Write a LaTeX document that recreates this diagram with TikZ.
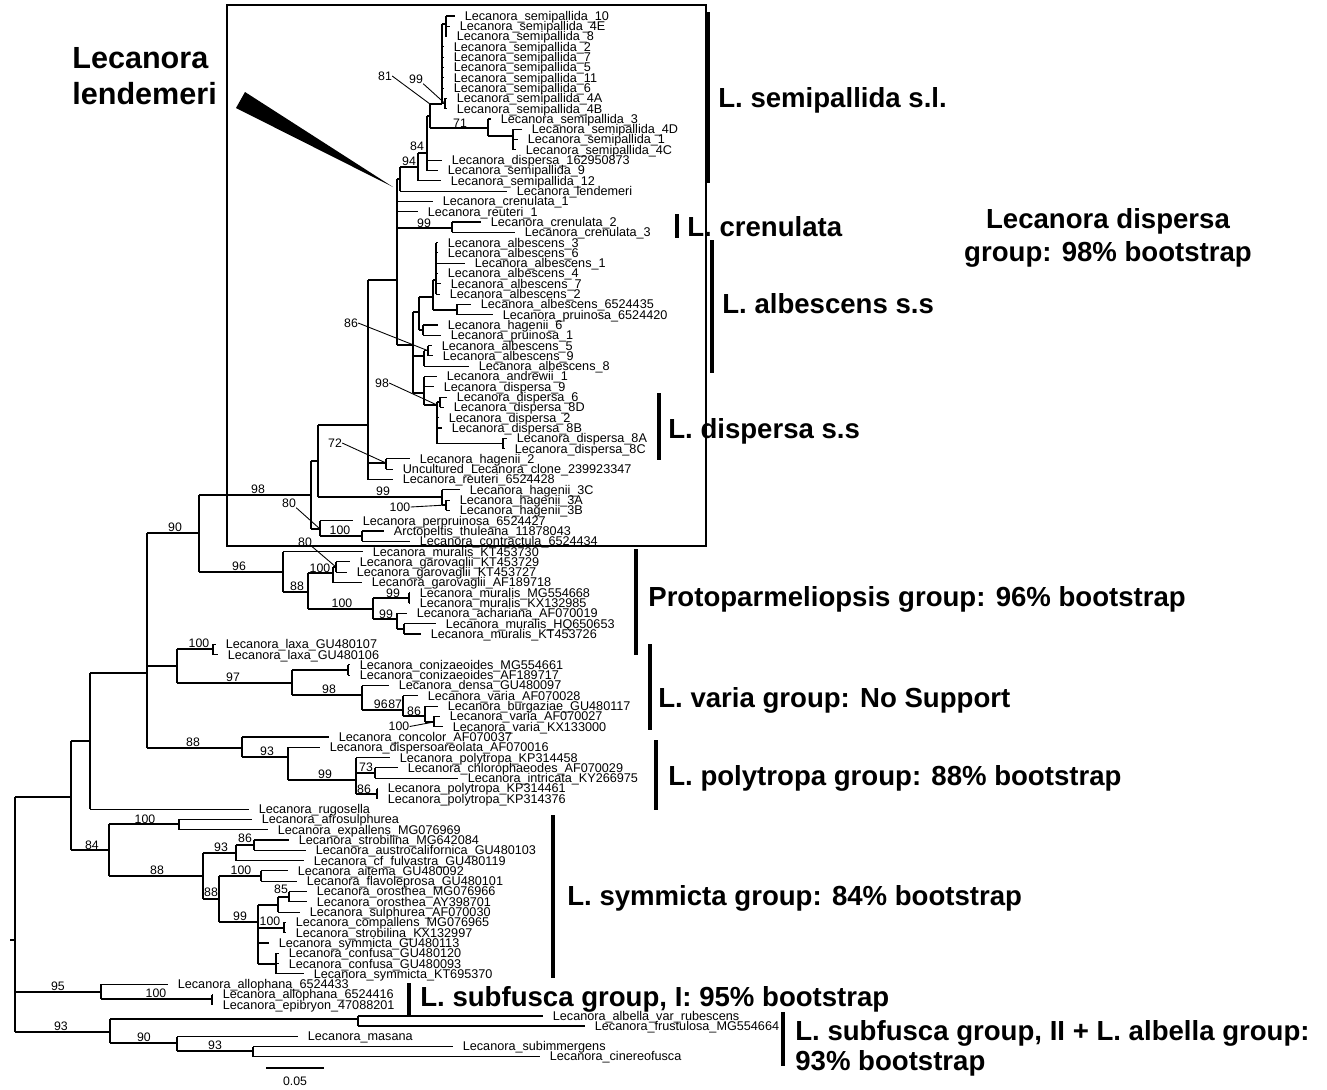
\documentclass[tikz,border=0pt]{standalone}
\usepackage{fontspec}
\setmainfont{Liberation Sans}
\usetikzlibrary{positioning}

\tikzset{
  branch/.style={line width=0.6pt},
  tiplab/.style={anchor=base west, inner sep=0pt, xshift=0.19cm, yshift=-2.5pt,
    font=\fontsize{7.2}{8}\selectfont},
  bootlab/.style={inner sep=0pt, font=\fontsize{7}{8}\selectfont},
  pointer/.style={line width=0.5pt},
  groupbar/.style={line width=2.2pt},
  grouplab/.style={anchor=base west, inner sep=0pt, font=\fontsize{15.7}{18}\selectfont\bfseries},
  bigname/.style={anchor=base west, inner sep=0pt, font=\fontsize{17.4}{20}\selectfont\bfseries}
}
% stem from parent x to node x at stem y, then the node's vertical
\newcommand{\clade}[6]{%
  \draw[branch] (#2,#4) -- (#3,#4) coordinate (#1);
  \draw[branch] (#3,#5) -- (#3,#6);}
% terminal branch and its label
\newcommand{\leaf}[5]{%
  \draw[branch] (#2,#4) -- (#3,#4);
  \node[tiplab] (#1) at (#3,#4) {#5};}
\newcommand{\boot}[4]{\node[bootlab] (#1) at (#2,#3) {#4};}

\begin{document}
\begin{tikzpicture}[x=0.02cm, y=-0.02cm]
  \fill[white] (0,0) rectangle (1327,1089);
  \useasboundingbox (0,0) rectangle (1327,1089);

  % dispersa group box and the lendemeri wedge
  \draw[line width=0.7pt] (227,5) rectangle (706,546);
  \fill[black] (236,108) -- (245,92) -- (393,187) -- cycle;
  \node[bigname] (lendA) at (72,68) {Lecanora};
  \node[bigname] (lendB) at (72,104) {lendemeri};

  % backbone
  \draw[branch] (10,940) -- (15,940);
  \draw[branch] (15,797) -- (15,1032);
  \clade{n71}{15}{71}{797}{741}{850}
  \clade{n90}{71}{90}{741}{673}{809.1}
  \clade{n147}{90}{147}{673}{533}{748}
  \clade{n199}{147}{199}{533}{495}{572}
  \clade{n311}{199}{311}{495}{461}{529}
  \clade{n318}{311}{318}{461}{425}{497}
  \clade{n368}{318}{368}{425}{280}{479.5}
  \clade{n397}{368}{397}{280}{179}{345}

  % semipallida s.l.
  \clade{n400}{397}{400}{179}{167}{191.1}
  \clade{n418}{400}{418}{167}{153}{180.8}
  \clade{n427}{418}{427}{153}{116}{170.5}
  \clade{n430}{427}{430}{116}{104}{128}
  \clade{n442}{430}{442}{104}{24}{104}
  \clade{n446}{442}{446}{24}{16}{36.6}
  \clade{n444}{442}{445}{103.5}{98.4}{108.7}
  \clade{n488}{430}{488}{128}{119}{136}
  \clade{n513}{488}{513}{136}{129.3}{149.9}
  \leaf{sp10}{446}{455}{16}{Lecanora\_semipallida\_10}
  \leaf{sp4E}{446}{450}{26.3}{Lecanora\_semipallida\_4E}
  \leaf{sp8}{446}{447}{36.6}{Lecanora\_semipallida\_8}
  \leaf{sp2}{442}{444}{46.9}{Lecanora\_semipallida\_2}
  \leaf{sp7}{442}{444}{57.2}{Lecanora\_semipallida\_7}
  \leaf{sp5}{442}{444}{67.5}{Lecanora\_semipallida\_5}
  \leaf{sp11}{442}{444}{77.8}{Lecanora\_semipallida\_11}
  \leaf{sp6}{442}{444}{88.1}{Lecanora\_semipallida\_6}
  \leaf{sp4A}{445}{447}{98.4}{Lecanora\_semipallida\_4A}
  \leaf{sp4B}{445}{447}{108.7}{Lecanora\_semipallida\_4B}
  \leaf{sp3}{488}{491}{119}{Lecanora\_semipallida\_3}
  \leaf{sp4D}{513}{522}{129.3}{Lecanora\_semipallida\_4D}
  \leaf{sp1}{513}{518}{139.6}{Lecanora\_semipallida\_1}
  \leaf{sp4C}{513}{516}{149.9}{Lecanora\_semipallida\_4C}
  \leaf{di162}{427}{442}{160.2}{Lecanora\_dispersa\_162950873}
  \leaf{sp9}{427}{438}{170.5}{Lecanora\_semipallida\_9}
  \leaf{sp12}{418}{441}{180.8}{Lecanora\_semipallida\_12}
  \leaf{lend}{400}{507}{191.1}{Lecanora\_lendemeri}
  \boot{s81}{385}{76}{81}
  \boot{s99a}{416}{79}{99}
  \boot{s84a}{417}{146}{84}
  \boot{s94a}{409}{161}{94}
  \boot{s71}{460}{123}{71}
  \draw[pointer] (s81.east) -- (n430 |- n442);
  \draw[pointer] (s99a.south east) -- (n444);

  % crenulata
  \clade{n452}{397}{452}{228}{222}{232.3}
  \leaf{cr1}{397}{433}{201.4}{Lecanora\_crenulata\_1}
  \leaf{re1}{397}{418}{211.7}{Lecanora\_reuteri\_1}
  \leaf{cr2}{452}{481}{222}{Lecanora\_crenulata\_2}
  \leaf{cr3}{452}{515}{232.3}{Lecanora\_crenulata\_3}
  \boot{s99b}{424}{223}{99}

  % albescens and dispersa s.s.
  \clade{n413}{397}{413}{345}{312}{393}
  \clade{n419}{413}{419}{312}{297}{330}
  \clade{n433}{419}{433}{297}{280}{310}
  \clade{n436}{433}{436}{280}{242.6}{294.1}
  \clade{n457}{433}{457}{310}{304.4}{314.7}
  \clade{n423}{419}{423}{330}{325}{335.3}
  \clade{n424}{413}{424}{356}{350.7}{366.2}
  \clade{n428}{424}{428}{350.7}{345.6}{355.9}
  \clade{n425d}{413}{424}{393}{376.5}{405}
  \clade{n437}{424}{437}{405}{402}{443.5}
  \clade{n440}{437}{440}{402}{397.1}{407.4}
  \clade{n503}{437}{503}{443.5}{438.3}{448.6}
  \leaf{al3}{436}{438}{242.6}{Lecanora\_albescens\_3}
  \leaf{al6}{436}{438}{252.9}{Lecanora\_albescens\_6}
  \leaf{al1}{436}{465}{263.2}{Lecanora\_albescens\_1}
  \leaf{al4}{436}{438}{273.5}{Lecanora\_albescens\_4}
  \leaf{al7}{436}{441}{283.8}{Lecanora\_albescens\_7}
  \leaf{al2}{436}{440}{294.1}{Lecanora\_albescens\_2}
  \leaf{al435}{457}{471}{304.4}{Lecanora\_albescens\_6524435}
  \leaf{pr420}{457}{493}{314.7}{Lecanora\_pruinosa\_6524420}
  \leaf{ha6}{423}{438}{325}{Lecanora\_hagenii\_6}
  \leaf{pr1}{423}{441}{335.3}{Lecanora\_pruinosa\_1}
  \leaf{al5}{428}{432}{345.6}{Lecanora\_albescens\_5}
  \leaf{al9}{428}{433}{355.9}{Lecanora\_albescens\_9}
  \leaf{al8}{424}{469}{366.2}{Lecanora\_albescens\_8}
  \leaf{an1}{424}{437}{376.5}{Lecanora\_andrewii\_1}
  \leaf{di9}{424}{434}{386.8}{Lecanora\_dispersa\_9}
  \leaf{di6}{440}{447}{397.1}{Lecanora\_dispersa\_6}
  \leaf{di8D}{440}{444}{407.4}{Lecanora\_dispersa\_8D}
  \leaf{di2}{437}{439}{417.7}{Lecanora\_dispersa\_2}
  \leaf{di8B}{437}{442}{428}{Lecanora\_dispersa\_8B}
  \leaf{di8A}{503}{507}{438.3}{Lecanora\_dispersa\_8A}
  \leaf{di8C}{503}{505}{448.6}{Lecanora\_dispersa\_8C}
  \boot{s86a}{351}{323}{86}
  \boot{s98a}{382}{383}{98}
  \draw[pointer] (s86a.east) -- (n428);
  \draw[pointer] (s98a.east) -- (n437);

  % rest of the dispersa group
  \clade{n386}{368}{386}{463}{458.9}{469.2}
  \clade{n442h}{318}{442}{497}{489.8}{505}
  \clade{n446h}{442}{446}{505}{500.1}{510.4}
  \clade{n320}{311}{320}{529}{520.7}{536}
  \clade{n362}{320}{362}{536}{531}{541.3}
  \leaf{ha2}{386}{410}{458.9}{Lecanora\_hagenii\_2}
  \leaf{unc}{386}{393}{469.2}{Uncultured\_Lecanora\_clone\_239923347}
  \leaf{re428}{368}{393}{479.5}{Lecanora\_reuteri\_6524428}
  \leaf{ha3C}{442}{460}{489.8}{Lecanora\_hagenii\_3C}
  \leaf{ha3A}{446}{450}{500.1}{Lecanora\_hagenii\_3A}
  \leaf{ha3B}{446}{450}{510.4}{Lecanora\_hagenii\_3B}
  \leaf{perp}{320}{353}{520.7}{Lecanora\_perpruinosa\_6524427}
  \leaf{arct}{362}{384}{531}{Arctopeltis\_thuleana\_11878043}
  \leaf{cont}{362}{410}{541.3}{Lecanora\_contractula\_6524434}
  \boot{s72}{335}{443}{72}
  \boot{s98b}{258}{489}{98}
  \boot{s99c}{383}{491}{99}
  \boot{s100a}{400}{507}{100}
  \boot{s80a}{289}{503}{80}
  \boot{s100b}{340}{530}{100}
  \draw[pointer] (s72.east) -- (n386);
  \draw[pointer] (s100a.east) -- (n446h);
  \draw[pointer] (s80a.south east) -- (n320);

  % Protoparmeliopsis
  \clade{n283}{199}{283}{572}{551.6}{592}
  \clade{n308}{283}{308}{592}{573}{609}
  \clade{n333}{308}{333}{573}{567}{582.5}
  \clade{n336}{333}{336}{567}{561.9}{572.2}
  \clade{n373}{308}{373}{609}{598}{619}
  \clade{n409}{373}{409}{598}{592.8}{603.1}
  \clade{n397b}{373}{397}{619}{613.4}{629}
  \clade{n404}{397}{404}{629}{623.7}{634}
  \leaf{mu730}{283}{363}{551.6}{Lecanora\_muralis\_KT453730}
  \leaf{ga729}{336}{350}{561.9}{Lecanora\_garovaglii\_KT453729}
  \leaf{ga727}{336}{347}{572.2}{Lecanora\_garovaglii\_KT453727}
  \leaf{ga718}{333}{362}{582.5}{Lecanora\_garovaglii\_AF189718}
  \leaf{mu668}{409}{410}{592.8}{Lecanora\_muralis\_MG554668}
  \leaf{mu985}{409}{410}{603.1}{Lecanora\_muralis\_KX132985}
  \leaf{ach}{397}{407}{613.4}{Lecanora\_achariana\_AF070019}
  \leaf{mu653}{404}{436}{623.7}{Lecanora\_muralis\_HQ650653}
  \leaf{mu726}{404}{421}{634}{Lecanora\_muralis\_KT453726}
  \boot{s90a}{175}{527}{90}
  \boot{s96a}{239}{566}{96}
  \boot{s80b}{305}{542}{80}
  \boot{s100c}{320}{568}{100}
  \boot{s88a}{297}{586}{88}
  \boot{s99d}{393}{593.5}{99}
  \boot{s100d}{342}{603}{100}
  \boot{s99e}{386}{614}{99}
  \draw[pointer] (s80b.south east) -- (n336);

  % varia group
  \clade{n177}{147}{177}{666}{649}{683}
  \clade{n213}{177}{213}{649}{644.3}{654.6}
  \clade{n292}{177}{292}{683}{670}{695}
  \clade{n348}{292}{348}{670}{664.9}{675.2}
  \clade{n362v}{292}{362}{695}{685.5}{710}
  \clade{n403}{362}{403}{710}{695.8}{716}
  \clade{n425}{403}{425}{716}{706.1}{722}
  \clade{n434}{425}{434}{722}{716.4}{726.7}
  \leaf{lx107}{213}{216}{644.3}{Lecanora\_laxa\_GU480107}
  \leaf{lx106}{213}{218}{654.6}{Lecanora\_laxa\_GU480106}
  \leaf{co661}{348}{350}{664.9}{Lecanora\_conizaeoides\_MG554661}
  \leaf{co717}{348}{350}{675.2}{Lecanora\_conizaeoides\_AF189717}
  \leaf{den}{362}{389}{685.5}{Lecanora\_densa\_GU480097}
  \leaf{va028}{403}{418}{695.8}{Lecanora\_varia\_AF070028}
  \leaf{bur}{425}{438}{706.1}{Lecanora\_burgaziae\_GU480117}
  \leaf{va027}{434}{440}{716.4}{Lecanora\_varia\_AF070027}
  \leaf{va000}{434}{443}{726.7}{Lecanora\_varia\_KX133000}
  \boot{s100e}{199}{643}{100}
  \boot{s97}{233}{677}{97}
  \boot{s98c}{329}{689}{98}
  \node[bootlab, anchor=east] (s96b) at (388,704) {96};
  \node[bootlab, anchor=west] (s87) at (388,704) {87};
  \boot{s86b}{414}{711}{86}
  \boot{s100f}{399}{726.5}{100}
  \draw[pointer] (s100f.east) -- (n434);

  % polytropa group
  \clade{n242}{147}{242}{748}{737}{757}
  \clade{n288}{242}{288}{757}{747.3}{780}
  \clade{n356}{288}{356}{780}{757.6}{794}
  \clade{n375}{356}{375}{773}{767.9}{778.2}
  \clade{n377}{356}{377}{794}{788.5}{798.8}
  \leaf{conc}{242}{329}{737}{Lecanora\_concolor\_AF070037}
  \leaf{dsa}{288}{320}{747.3}{Lecanora\_dispersoareolata\_AF070016}
  \leaf{po458}{356}{390}{757.6}{Lecanora\_polytropa\_KP314458}
  \leaf{chl}{375}{398}{767.9}{Lecanora\_chlorophaeodes\_AF070029}
  \leaf{intr}{375}{458}{778.2}{Lecanora\_intricata\_KY266975}
  \leaf{po461}{377}{378}{788.5}{Lecanora\_polytropa\_KP314461}
  \leaf{po376}{377}{378}{798.8}{Lecanora\_polytropa\_KP314376}
  \leaf{rug}{90}{249}{809.1}{Lecanora\_rugosella}
  \boot{s88b}{193}{742}{88}
  \boot{s93a}{267}{751}{93}
  \boot{s99f}{325}{774}{99}
  \boot{s73}{366}{767}{73}
  \boot{s86c}{364}{789}{86}

  % symmicta group
  \clade{n109}{71}{109}{850}{824}{876}
  \clade{n179}{109}{179}{824}{819.4}{829.7}
  \clade{n203}{109}{203}{876}{853}{899}
  \clade{n236}{203}{236}{853}{845}{860.6}
  \clade{n254}{236}{254}{845}{840}{850.3}
  \clade{n219}{203}{219}{899}{876}{922}
  \clade{n261}{219}{261}{876}{870.9}{881.2}
  \clade{n258}{219}{258}{922}{905}{964}
  \clade{n278}{258}{278}{905}{897}{912.1}
  \clade{n289}{278}{289}{897}{891.5}{901.8}
  \clade{n284}{258}{284}{928}{922.4}{932.7}
  \clade{n276}{258}{276}{964}{953.3}{973.9}
  \leaf{afro}{179}{252}{819.4}{Lecanora\_afrosulphurea}
  \leaf{expa}{179}{268}{829.7}{Lecanora\_expallens\_MG076969}
  \leaf{st084}{254}{289}{840}{Lecanora\_strobilina\_MG642084}
  \leaf{aust}{254}{306}{850.3}{Lecanora\_austrocalifornica\_GU480103}
  \leaf{fulv}{236}{304}{860.6}{Lecanora\_cf\_fulvastra\_GU480119}
  \leaf{aite}{261}{288}{870.9}{Lecanora\_aitema\_GU480092}
  \leaf{flav}{261}{297}{881.2}{Lecanora\_flavoleprosa\_GU480101}
  \leaf{or966}{289}{307}{891.5}{Lecanora\_orosthea\_MG076966}
  \leaf{or701}{289}{307}{901.8}{Lecanora\_orosthea\_AY398701}
  \leaf{sulp}{278}{300}{912.1}{Lecanora\_sulphurea\_AF070030}
  \leaf{comp}{284}{286}{922.4}{Lecanora\_compallens\_MG076965}
  \leaf{st997}{284}{286}{932.7}{Lecanora\_strobilina\_KX132997}
  \leaf{sy113}{258}{269}{943}{Lecanora\_symmicta\_GU480113}
  \leaf{cf120}{276}{279}{953.3}{Lecanora\_confusa\_GU480120}
  \leaf{cf093}{276}{279}{963.6}{Lecanora\_confusa\_GU480093}
  \leaf{sy370}{276}{304}{973.9}{Lecanora\_symmicta\_KT695370}
  \boot{s100g}{145}{819}{100}
  \boot{s84b}{92}{845}{84}
  \boot{s86d}{245}{838}{86}
  \boot{s93b}{221}{847}{93}
  \boot{s88c}{157}{870}{88}
  \boot{s100h}{241}{870}{100}
  \boot{s88d}{211}{892}{88}
  \boot{s85}{281}{889}{85}
  \boot{s99g}{240}{916}{99}
  \boot{s100i}{270}{921}{100}

  % subfusca and albella groups
  \clade{n101}{15}{101}{992}{984.2}{999}
  \clade{n212}{101}{212}{999}{994.5}{1004.8}
  \clade{n110}{15}{110}{1032}{1019}{1043}
  \clade{n358}{110}{358}{1019}{1016}{1026}
  \clade{n177b}{110}{177}{1043}{1036.5}{1051}
  \clade{n253}{177}{253}{1051}{1046.5}{1056.5}
  \leaf{all433}{101}{168}{984.2}{Lecanora\_allophana\_6524433}
  \leaf{all416}{212}{213}{994.5}{Lecanora\_allophana\_6524416}
  \leaf{epib}{212}{213}{1004.8}{Lecanora\_epibryon\_47088201}
  \leaf{albe}{358}{543}{1016}{Lecanora\_albella\_var\_rubescens}
  \leaf{frus}{358}{585}{1026}{Lecanora\_frustulosa\_MG554664}
  \leaf{masa}{177}{298}{1036.5}{Lecanora\_masana}
  \leaf{subi}{253}{453}{1046.5}{Lecanora\_subimmergens}
  \leaf{cine}{253}{540}{1056.5}{Lecanora\_cinereofusca}
  \boot{s95}{58}{986}{95}
  \boot{s100j}{156}{993}{100}
  \boot{s93c}{61}{1026}{93}
  \boot{s90b}{144}{1037}{90}
  \boot{s93d}{215}{1045}{93}

  % scale bar
  \draw[branch] (266,1068) coordinate (sbA) -- (324,1068) coordinate (sbB);
  \node[bootlab] (sblab) at (295,1081) {0.05};

  % group bars and names
  \draw[groupbar] (708,12) -- (708,183);
  \node[grouplab] (gsemi) at (718,107) {L. semipallida s.l.};
  \draw[groupbar] (677,214) -- (677,238);
  \node[grouplab] (gcren) at (687,236) {L. crenulata};
  \draw[groupbar] (712,240) -- (712,373);
  \node[grouplab] (galb) at (722,313) {L. albescens s.s};
  \draw[groupbar] (659,393) -- (659,460);
  \node[grouplab] (gdisp) at (668,438) {L. dispersa s.s};
  \node[grouplab, anchor=base] (gdgA) at (1108,228) {Lecanora dispersa};
  \node[grouplab, anchor=base] (gdgB) at (1108,261) {group: 98\% bootstrap};
  \draw[groupbar] (636,549) -- (636,655);
  \node[grouplab] (gproto) at (648,606) {Protoparmeliopsis group: 96\% bootstrap};
  \draw[groupbar] (650,644) -- (650,730);
  \node[grouplab] (gvar) at (658,707) {L. varia group: No Support};
  \draw[groupbar] (656,740) -- (656,810);
  \node[grouplab] (gpoly) at (668,785) {L. polytropa group: 88\% bootstrap};
  \draw[groupbar] (553,815) -- (553,978);
  \node[grouplab] (gsym) at (567,905) {L. symmicta group: 84\% bootstrap};
  \draw[groupbar] (409,983) -- (409,1016);
  \node[grouplab] (gsubI) at (420,1006) {L. subfusca group, I: 95\% bootstrap};
  \draw[groupbar] (783,1012) -- (783,1066);
  \node[grouplab] (gsubIIa) at (795,1040) {L. subfusca group, II + L. albella group:};
  \node[grouplab] (gsubIIb) at (795,1070) {93\% bootstrap};
\end{tikzpicture}
\end{document}
